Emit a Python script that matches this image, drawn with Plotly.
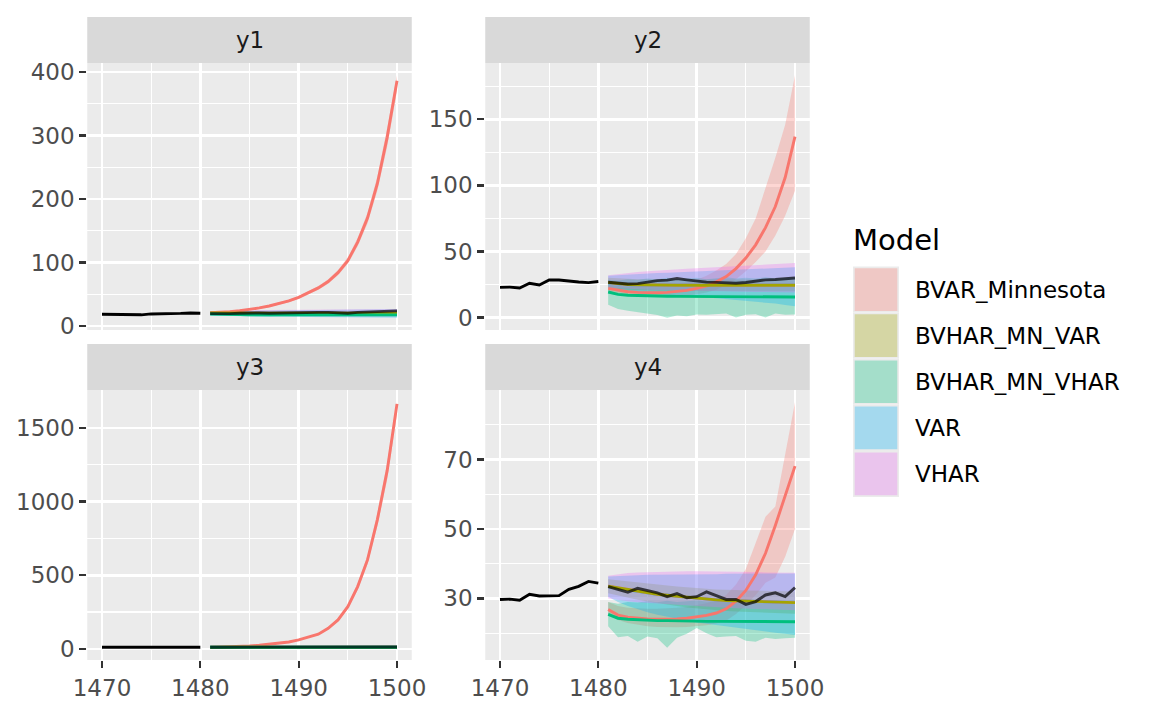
import plotly.graph_objects as go

# ---------------- data ----------------
train_years = [1470, 1471, 1472, 1473, 1474, 1475, 1476, 1477, 1478, 1479, 1480]
fc_years = [1481, 1482, 1483, 1484, 1485, 1486, 1487, 1488, 1489, 1490,
            1491, 1492, 1493, 1494, 1495, 1496, 1497, 1498, 1499, 1500]
x_ticks = [1470, 1480, 1490, 1500]
x_minor = [1475, 1485, 1495]

models = ["BVAR_Minnesota", "BVHAR_MN_VAR", "BVHAR_MN_VHAR", "VAR", "VHAR"]
model_colors = ["#F8766D", "#A3A500", "#00BF7D", "#00B0F6", "#E76BF3"]
panel_titles = ["y1", "y2", "y3", "y4"]

# ---- y1 ----
y1_ticks = [0, 100, 200, 300, 400]
y1_minor = [50, 150, 250, 350]
y1_train = [18.6, 18.5, 18.0, 17.8, 17.6, 19.0, 19.0, 19.3, 19.8, 20.5, 20.0]
y1_test = [19.5, 19.0, 19.5, 20.0, 20.5, 20.5, 20.0, 20.5, 21.0, 20.5, 21.0, 21.5, 21.5, 21.0, 20.0, 21.5, 22.0, 22.5, 23.0, 23.8]
y1_minn_mean = [21.0, 21.5, 22.5, 24.0, 26.0, 28.5, 31.5, 35.0, 39.5, 45.0, 52.0, 60.0, 70.0, 84.0, 103.0, 132.0, 170.0, 224.0, 297.0, 386.0]
y1_minn_lo = [20.0, 20.5, 21.4, 22.8, 24.7, 27.1, 29.9, 33.2, 37.5, 42.7, 49.4, 57.0, 66.5, 79.8, 97.9, 125.4, 161.5, 212.8, 282.2, 370.0]
y1_minn_hi = [22.0, 22.5, 23.6, 25.2, 27.3, 29.9, 33.1, 36.8, 41.5, 47.3, 54.6, 63.0, 73.5, 88.2, 108.2, 138.6, 178.5, 235.2, 311.9, 395.0]
y1_mnvar_mean = [20.6, 20.4, 20.3, 20.2, 20.1, 20.1, 20.0, 20.0, 20.0, 20.0, 20.0, 20.0, 20.0, 20.0, 20.0, 20.0, 20.0, 20.0, 20.0, 20.0]
y1_mnvar_lo = [18.8, 18.4, 18.1, 17.9, 17.8, 17.7, 17.6, 17.5, 17.5, 17.4, 17.4, 17.3, 17.3, 17.3, 17.2, 17.2, 17.2, 17.1, 17.1, 17.1]
y1_mnvar_hi = [22.4, 22.5, 22.5, 22.6, 22.6, 22.7, 22.7, 22.7, 22.8, 22.8, 22.8, 22.9, 22.9, 22.9, 22.9, 23.0, 23.0, 23.0, 23.0, 23.1]
y1_mnvhar_mean = [19.0, 18.4, 18.1, 17.9, 17.8, 17.7, 17.7, 17.6, 17.6, 17.6, 17.5, 17.5, 17.5, 17.5, 17.5, 17.5, 17.5, 17.5, 17.5, 17.5]
y1_mnvhar_lo = [16.8, 16.0, 15.6, 15.7, 15.2, 15.5, 15.0, 15.4, 15.3, 14.9, 15.2, 15.0, 15.3, 14.8, 15.1, 15.0, 14.7, 15.0, 14.9, 15.0]
y1_mnvhar_hi = [21.0, 20.7, 20.6, 20.5, 20.6, 20.4, 20.5, 20.4, 20.5, 20.3, 20.4, 20.3, 20.4, 20.3, 20.3, 20.4, 20.3, 20.3, 20.3, 20.3]
y1_var_mean = [20.4, 20.3, 20.2, 20.1, 20.1, 20.0, 20.0, 20.0, 20.0, 20.0, 20.0, 20.0, 20.0, 20.0, 20.0, 20.0, 20.0, 20.0, 20.0, 20.0]
y1_var_lo = [16.5, 16.0, 15.6, 15.3, 15.0, 14.8, 14.6, 14.4, 14.2, 14.1, 13.9, 13.8, 13.6, 13.5, 13.4, 13.3, 13.2, 13.0, 12.9, 12.8]
y1_var_hi = [23.2, 23.5, 23.7, 23.9, 24.1, 24.3, 24.5, 24.6, 24.8, 24.9, 25.1, 25.2, 25.4, 25.5, 25.6, 25.7, 25.8, 26.0, 26.1, 26.2]
y1_vhar_mean = [20.5, 20.3, 20.2, 20.1, 20.1, 20.0, 20.0, 20.0, 20.0, 20.0, 20.0, 20.0, 20.0, 20.0, 20.0, 20.0, 20.0, 20.0, 20.0, 20.0]
y1_vhar_lo = [17.0, 16.7, 16.5, 16.3, 16.2, 16.1, 16.0, 15.9, 15.8, 15.8, 15.7, 15.7, 15.6, 15.6, 15.6, 15.5, 15.5, 15.5, 15.5, 15.4]
y1_vhar_hi = [23.5, 24.0, 24.3, 24.6, 24.8, 25.0, 25.2, 25.4, 25.5, 25.7, 25.8, 25.9, 26.0, 26.1, 26.2, 26.3, 26.4, 26.5, 26.6, 26.7]

# ---- y2 ----
y2_ticks = [0, 50, 100, 150]
y2_minor = [25, 75, 125, 175]
y2_train = [22.8, 23.0, 22.3, 25.9, 24.6, 28.4, 28.4, 27.4, 26.9, 26.4, 27.2]
y2_test = [26.7, 26.0, 25.3, 25.6, 26.8, 27.9, 28.3, 29.5, 28.5, 27.4, 26.8, 26.6, 26.3, 25.9, 26.5, 27.6, 28.5, 28.8, 29.6, 29.9]
y2_minn_mean = [22.0, 20.5, 19.5, 19.0, 18.7, 18.7, 19.0, 19.5, 20.5, 22.0, 24.0, 27.0, 31.0, 37.0, 45.0, 55.0, 68.0, 84.0, 106.0, 137.0]
y2_minn_lo = [19.5, 18.0, 16.8, 16.2, 15.8, 15.6, 15.7, 16.0, 16.6, 17.6, 19.0, 21.0, 24.5, 29.0, 35.0, 42.0, 50.0, 62.0, 77.0, 96.0]
y2_minn_hi = [24.5, 23.5, 23.0, 23.0, 23.0, 23.3, 23.8, 24.8, 26.3, 28.5, 31.5, 35.5, 40.5, 48.0, 60.0, 75.0, 98.0, 121.0, 146.0, 183.5]
y2_mnvar_mean = [26.5, 25.5, 25.0, 24.8, 24.6, 24.5, 24.5, 24.4, 24.4, 24.4, 24.4, 24.4, 24.4, 24.4, 24.4, 24.4, 24.4, 24.4, 24.4, 24.4]
y2_mnvar_lo = [23.0, 21.5, 21.0, 20.7, 20.5, 20.4, 20.3, 20.2, 20.2, 20.1, 20.1, 20.0, 20.0, 20.0, 19.9, 19.9, 19.9, 19.8, 19.8, 19.8]
y2_mnvar_hi = [30.0, 29.5, 29.2, 29.0, 28.9, 28.8, 28.8, 28.7, 28.7, 28.7, 28.7, 28.7, 28.7, 28.7, 28.7, 28.7, 28.7, 28.7, 28.7, 28.7]
y2_mnvhar_mean = [19.3, 17.5, 16.8, 16.5, 16.3, 16.2, 16.1, 16.0, 16.0, 15.9, 15.9, 15.8, 15.8, 15.7, 15.7, 15.7, 15.6, 15.6, 15.6, 15.5]
y2_mnvhar_lo = [9.7, 6.5, 5.0, 3.8, 3.0, 1.8, -0.3, 1.5, 1.0, 2.2, 2.0, 2.4, 3.0, 0.0, 2.0, 2.4, 0.0, 3.0, 2.0, 2.2]
y2_mnvhar_hi = [28.5, 28.0, 29.0, 28.5, 29.5, 29.0, 30.0, 29.0, 29.5, 30.0, 29.0, 29.5, 30.5, 29.5, 30.0, 29.5, 30.5, 29.5, 30.0, 30.5]
y2_var_mean = [26.3, 25.4, 25.0, 24.8, 24.6, 24.5, 24.5, 24.4, 24.4, 24.4, 24.4, 24.4, 24.4, 24.4, 24.4, 24.4, 24.4, 24.4, 24.4, 24.4]
y2_var_lo = [22.0, 20.5, 19.5, 18.8, 18.2, 17.6, 17.1, 16.6, 16.1, 15.6, 15.1, 14.6, 14.0, 13.4, 12.8, 12.1, 11.3, 10.5, 9.5, 8.5]
y2_var_hi = [31.5, 32.0, 32.5, 33.0, 33.3, 33.6, 33.9, 34.2, 34.5, 34.8, 35.1, 35.4, 35.7, 36.0, 36.3, 36.6, 37.0, 37.3, 37.6, 38.0]
y2_vhar_mean = [26.4, 25.5, 25.0, 24.8, 24.6, 24.5, 24.5, 24.4, 24.4, 24.4, 24.4, 24.4, 24.4, 24.4, 24.4, 24.4, 24.4, 24.4, 24.4, 24.4]
y2_vhar_lo = [22.5, 22.0, 21.6, 21.3, 21.0, 20.8, 20.6, 20.4, 20.2, 20.0, 19.9, 19.8, 19.6, 19.5, 19.4, 19.3, 19.2, 19.1, 19.0, 18.9]
y2_vhar_hi = [32.0, 33.0, 33.8, 34.5, 35.0, 35.6, 36.1, 36.5, 36.9, 37.3, 37.7, 38.0, 38.4, 38.7, 39.0, 39.4, 39.8, 40.2, 40.7, 41.2]

# ---- y3 ----
y3_ticks = [0, 500, 1000, 1500]
y3_minor = [250, 750, 1250]
y3_train = [11.5, 11.6, 11.4, 11.5, 11.7, 11.6, 11.8, 12.0, 12.4, 12.1, 11.9]
y3_test = [11.8, 11.9, 12.0, 11.9, 12.1, 12.2, 12.0, 12.3, 12.4, 12.2, 12.5, 12.6, 12.4, 12.7, 12.8, 12.6, 12.9, 13.0, 13.1, 13.2]
y3_minn_mean = [11.0, 12.0, 13.0, 16.0, 20.0, 25.0, 31.0, 38.0, 47.0, 61.0, 79.0, 100.0, 140.0, 197.0, 287.0, 423.0, 604.0, 876.0, 1210.0, 1663.0]
y3_minn_lo = [10.5, 11.4, 12.4, 15.2, 19.0, 23.8, 29.5, 36.1, 44.7, 58.0, 75.0, 95.0, 133.0, 187.0, 273.0, 402.0, 574.0, 832.0, 1150.0, 1590.0]
y3_minn_hi = [11.5, 12.6, 13.6, 16.8, 21.0, 26.3, 32.6, 39.9, 49.4, 64.1, 83.0, 105.0, 147.0, 207.0, 301.0, 444.0, 634.0, 920.0, 1265.0, 1674.0]
y3_mnvar_mean = [11.9, 11.9, 11.8, 11.8, 11.8, 11.8, 11.8, 11.8, 11.8, 11.8, 11.8, 11.8, 11.8, 11.8, 11.8, 11.8, 11.8, 11.8, 11.8, 11.8]
y3_mnvar_lo = [10.9, 10.8, 10.7, 10.6, 10.6, 10.5, 10.5, 10.5, 10.4, 10.4, 10.4, 10.4, 10.3, 10.3, 10.3, 10.3, 10.3, 10.2, 10.2, 10.2]
y3_mnvar_hi = [12.9, 13.0, 13.0, 13.1, 13.1, 13.1, 13.2, 13.2, 13.2, 13.2, 13.3, 13.3, 13.3, 13.3, 13.3, 13.4, 13.4, 13.4, 13.4, 13.4]
y3_mnvhar_mean = [11.6, 11.4, 11.3, 11.3, 11.2, 11.2, 11.2, 11.2, 11.2, 11.2, 11.2, 11.2, 11.2, 11.2, 11.2, 11.2, 11.2, 11.2, 11.2, 11.2]
y3_mnvhar_lo = [9.6, 9.3, 9.2, 9.0, 9.1, 8.9, 8.8, 9.0, 8.9, 8.7, 8.9, 8.8, 8.7, 8.9, 8.8, 8.6, 8.8, 8.7, 8.7, 8.8]
y3_mnvhar_hi = [13.0, 13.0, 13.1, 13.1, 13.2, 13.2, 13.2, 13.3, 13.3, 13.3, 13.3, 13.4, 13.4, 13.4, 13.4, 13.4, 13.5, 13.5, 13.5, 13.5]
y3_var_mean = [11.8, 11.8, 11.8, 11.8, 11.8, 11.8, 11.8, 11.8, 11.8, 11.8, 11.8, 11.8, 11.8, 11.8, 11.8, 11.8, 11.8, 11.8, 11.8, 11.8]
y3_var_lo = [10.0, 9.8, 9.6, 9.5, 9.4, 9.3, 9.2, 9.1, 9.0, 8.9, 8.9, 8.8, 8.7, 8.7, 8.6, 8.6, 8.5, 8.5, 8.4, 8.3]
y3_var_hi = [13.3, 13.5, 13.6, 13.7, 13.8, 13.9, 14.0, 14.0, 14.1, 14.1, 14.2, 14.2, 14.3, 14.3, 14.4, 14.4, 14.4, 14.5, 14.5, 14.5]
y3_vhar_mean = [11.8, 11.8, 11.8, 11.8, 11.8, 11.8, 11.8, 11.8, 11.8, 11.8, 11.8, 11.8, 11.8, 11.8, 11.8, 11.8, 11.8, 11.8, 11.8, 11.8]
y3_vhar_lo = [10.2, 10.0, 9.9, 9.8, 9.7, 9.6, 9.5, 9.5, 9.4, 9.4, 9.3, 9.3, 9.2, 9.2, 9.2, 9.1, 9.1, 9.1, 9.0, 9.0]
y3_vhar_hi = [13.4, 13.5, 13.6, 13.6, 13.7, 13.7, 13.8, 13.8, 13.8, 13.9, 13.9, 13.9, 13.9, 14.0, 14.0, 14.0, 14.0, 14.0, 14.0, 14.0]

# ---- y4 ----
y4_ticks = [30, 50, 70]
y4_minor = [20, 40, 60, 80]
y4_train = [29.7, 29.8, 29.5, 31.2, 30.7, 30.7, 30.8, 32.6, 33.5, 34.9, 34.4]
y4_test = [33.4, 32.6, 31.8, 32.9, 32.3, 31.6, 30.5, 31.4, 30.2, 30.5, 31.9, 30.9, 29.7, 29.7, 28.3, 29.1, 31.0, 31.6, 30.5, 33.1]
y4_minn_mean = [26.8, 25.2, 24.6, 24.3, 24.1, 24.0, 24.0, 24.1, 24.3, 24.6, 25.1, 25.8, 27.0, 29.2, 32.3, 36.8, 43.0, 51.0, 59.5, 68.1]
y4_minn_lo = [25.5, 23.8, 22.9, 22.4, 22.0, 21.8, 21.7, 21.7, 21.8, 22.0, 22.3, 22.8, 23.6, 25.5, 28.0, 31.0, 34.5, 36.0, 42.0, 50.0]
y4_minn_hi = [29.0, 27.8, 27.3, 27.1, 27.0, 27.0, 27.1, 27.3, 27.6, 28.0, 28.6, 29.5, 31.0, 34.0, 38.5, 46.0, 53.5, 56.5, 71.0, 86.5]
y4_mnvar_mean = [33.5, 33.0, 32.5, 32.0, 31.6, 31.2, 30.9, 30.6, 30.3, 30.0, 29.8, 29.6, 29.4, 29.3, 29.2, 29.1, 29.0, 28.9, 28.9, 28.8]
y4_mnvar_lo = [31.5, 30.8, 30.2, 29.6, 29.1, 28.6, 28.2, 27.8, 27.4, 27.1, 26.8, 26.6, 26.4, 26.2, 26.1, 26.0, 25.9, 25.8, 25.7, 25.6]
y4_mnvar_hi = [35.5, 35.2, 34.8, 34.4, 34.1, 33.8, 33.6, 33.4, 33.2, 32.9, 32.8, 32.6, 32.4, 32.4, 32.3, 32.2, 32.1, 32.0, 32.0, 32.0]
y4_mnvhar_mean = [25.4, 24.3, 24.0, 23.8, 23.7, 23.6, 23.6, 23.5, 23.5, 23.5, 23.4, 23.4, 23.4, 23.4, 23.3, 23.3, 23.3, 23.3, 23.3, 23.3]
y4_mnvhar_lo = [22.0, 18.8, 19.2, 17.5, 19.0, 18.5, 15.8, 18.7, 19.8, 21.5, 20.0, 18.8, 19.0, 19.2, 17.8, 17.5, 18.7, 18.3, 18.5, 18.7]
y4_mnvhar_hi = [29.0, 28.5, 29.0, 28.8, 29.2, 28.9, 29.3, 29.0, 29.2, 29.4, 29.1, 29.3, 29.5, 29.2, 29.4, 29.3, 29.5, 29.2, 29.4, 29.5]
y4_var_mean = [33.4, 32.9, 32.4, 32.0, 31.6, 31.2, 30.9, 30.6, 30.3, 30.0, 29.8, 29.6, 29.4, 29.3, 29.2, 29.1, 29.0, 28.9, 28.9, 28.8]
y4_var_lo = [30.5, 29.0, 27.8, 26.8, 26.0, 25.3, 24.7, 24.1, 23.6, 23.1, 22.7, 22.3, 21.9, 21.5, 21.2, 20.8, 20.5, 20.1, 19.8, 19.5]
y4_var_hi = [36.3, 36.5, 36.6, 36.7, 36.8, 36.8, 36.9, 36.9, 37.0, 37.0, 37.0, 37.0, 37.1, 37.1, 37.1, 37.1, 37.1, 37.2, 37.2, 37.2]
y4_vhar_mean = [33.5, 33.0, 32.5, 32.0, 31.6, 31.2, 30.9, 30.6, 30.3, 30.0, 29.8, 29.6, 29.4, 29.3, 29.2, 29.1, 29.0, 28.9, 28.9, 28.8]
y4_vhar_lo = [30.0, 29.5, 29.2, 28.9, 28.7, 28.5, 28.3, 28.1, 27.9, 27.8, 27.6, 27.5, 27.3, 27.2, 27.1, 27.0, 26.9, 26.8, 26.7, 26.6]
y4_vhar_hi = [36.5, 37.0, 37.3, 37.5, 37.6, 37.7, 37.8, 37.8, 37.8, 37.8, 37.8, 37.7, 37.7, 37.7, 37.6, 37.6, 37.5, 37.5, 37.4, 37.4]

# ---------------- assembly ----------------
panels = [
    dict(title="y1", train=y1_train, test=y1_test, ticks=y1_ticks, minor=y1_minor,
         series=[(y1_minn_mean, y1_minn_lo, y1_minn_hi), (y1_mnvar_mean, y1_mnvar_lo, y1_mnvar_hi),
                 (y1_mnvhar_mean, y1_mnvhar_lo, y1_mnvhar_hi), (y1_var_mean, y1_var_lo, y1_var_hi),
                 (y1_vhar_mean, y1_vhar_lo, y1_vhar_hi)]),
    dict(title="y2", train=y2_train, test=y2_test, ticks=y2_ticks, minor=y2_minor,
         series=[(y2_minn_mean, y2_minn_lo, y2_minn_hi), (y2_mnvar_mean, y2_mnvar_lo, y2_mnvar_hi),
                 (y2_mnvhar_mean, y2_mnvhar_lo, y2_mnvhar_hi), (y2_var_mean, y2_var_lo, y2_var_hi),
                 (y2_vhar_mean, y2_vhar_lo, y2_vhar_hi)]),
    dict(title="y3", train=y3_train, test=y3_test, ticks=y3_ticks, minor=y3_minor,
         series=[(y3_minn_mean, y3_minn_lo, y3_minn_hi), (y3_mnvar_mean, y3_mnvar_lo, y3_mnvar_hi),
                 (y3_mnvhar_mean, y3_mnvhar_lo, y3_mnvhar_hi), (y3_var_mean, y3_var_lo, y3_var_hi),
                 (y3_vhar_mean, y3_vhar_lo, y3_vhar_hi)]),
    dict(title="y4", train=y4_train, test=y4_test, ticks=y4_ticks, minor=y4_minor,
         series=[(y4_minn_mean, y4_minn_lo, y4_minn_hi), (y4_mnvar_mean, y4_mnvar_lo, y4_mnvar_hi),
                 (y4_mnvhar_mean, y4_mnvhar_lo, y4_mnvhar_hi), (y4_var_mean, y4_var_lo, y4_var_hi),
                 (y4_vhar_mean, y4_vhar_lo, y4_vhar_hi)]),
]

W, H = 1152, 711
FONT = "DejaVu Sans"
BG = "#EBEBEB"
ALPHA = 0.3

# panel pixel boxes
col_x = [(87.25, 411.75), (485.25, 809.75)]
row_y = [(63.0, 330.0), (390.0, 660.0)]
strip_h = 46.0


def px_x(v):
    return v / W


def px_y(v):
    return 1 - v / H


def rgba(hexcol, a):
    h = hexcol.lstrip("#")
    r, g, b = int(h[0:2], 16), int(h[2:4], 16), int(h[4:6], 16)
    return f"rgba({r},{g},{b},{a})"


fig = go.Figure()
shapes = []
annotations = []
x_range = [1470 - 1.5, 1500 + 1.5]

for i, p in enumerate(panels):
    s = "" if i == 0 else str(i + 1)
    xa, ya = "x" + s, "y" + s
    row, col = divmod(i, 2)
    # ribbons
    for (mean, lo, hi), col_hex in zip(p["series"], model_colors):
        fig.add_trace(go.Scatter(x=fc_years, y=lo, xaxis=xa, yaxis=ya, mode="lines",
                                 line=dict(width=0, color=rgba(col_hex, 0)), showlegend=False,
                                 hoverinfo="skip"))
        fig.add_trace(go.Scatter(x=fc_years, y=hi, xaxis=xa, yaxis=ya, mode="lines",
                                 line=dict(width=0, color=rgba(col_hex, 0)), fill="tonexty",
                                 fillcolor=rgba(col_hex, ALPHA), showlegend=False, hoverinfo="skip"))
    # lines (VAR / VHAR first so that they sit beneath)
    for k in [3, 4, 0, 1, 2]:
        mean = p["series"][k][0]
        fig.add_trace(go.Scatter(x=fc_years, y=mean, xaxis=xa, yaxis=ya, mode="lines",
                                 line=dict(width=2.9, color=model_colors[k]), showlegend=False))
    fig.add_trace(go.Scatter(x=train_years, y=p["train"], xaxis=xa, yaxis=ya, mode="lines",
                             line=dict(width=2.9, color="black"), showlegend=False))
    fig.add_trace(go.Scatter(x=fc_years, y=p["test"], xaxis=xa, yaxis=ya, mode="lines",
                             line=dict(width=2.9, color="rgba(0,0,0,0.7)"), showlegend=False))

    # y range with 5% expansion (ggplot style)
    allv = list(p["train"]) + list(p["test"])
    for trip in p["series"]:
        for arr in trip:
            allv += list(arr)
    lo_v, hi_v = min(allv), max(allv)
    pad = (hi_v - lo_v) * 0.05
    y_range = [lo_v - pad, hi_v + pad]

    x0, x1 = col_x[col]
    t, b = row_y[row]
    bottom_row = row == 1
    fig.layout["xaxis" + s] = dict(
        domain=[px_x(x0), px_x(x1)], range=x_range, anchor=ya, automargin=False,
        tickmode="array", tickvals=x_ticks, ticktext=[str(v) for v in x_ticks],
        showticklabels=bottom_row, ticks="outside" if bottom_row else "",
        ticklen=7, tickwidth=2.2, tickcolor="#333333",
        tickfont=dict(family=FONT, size=23, color="#4D4D4D"),
        showgrid=True, gridcolor="white", gridwidth=2.6, zeroline=False, showline=False,
        minor=dict(tickmode="array", tickvals=x_minor, showgrid=True, gridcolor="white",
                   gridwidth=1.3, ticks=""),
        fixedrange=True,
    )
    fig.layout["yaxis" + s] = dict(
        domain=[px_y(b), px_y(t)], range=y_range, anchor=xa, automargin=False,
        tickmode="array", tickvals=p["ticks"], ticktext=[str(v) for v in p["ticks"]],
        ticks="outside", ticklen=7, tickwidth=2.2, tickcolor="#333333",
        tickfont=dict(family=FONT, size=23, color="#4D4D4D"),
        showgrid=True, gridcolor="white", gridwidth=2.6, zeroline=False, showline=False,
        minor=dict(tickmode="array", tickvals=p["minor"], showgrid=True, gridcolor="white",
                   gridwidth=1.3, ticks=""),
        fixedrange=True,
    )
    # strip
    shapes.append(dict(type="rect", xref="paper", yref="paper",
                       x0=px_x(x0), x1=px_x(x1), y0=px_y(t), y1=px_y(t - strip_h),
                       fillcolor="#D9D9D9", line=dict(width=0), layer="below"))
    annotations.append(dict(text=p["title"], xref="paper", yref="paper",
                            x=px_x((x0 + x1) / 2), y=px_y(t - strip_h / 2),
                            xanchor="center", yanchor="middle", showarrow=False,
                            font=dict(family=FONT, size=23, color="#1A1A1A")))

# legend (drawn manually as ggplot-like keys)
leg_x0, leg_x1 = 853.0, 899.0
key_top, key_h = 266.5, 46.1
annotations.append(dict(text="Model", xref="paper", yref="paper", x=px_x(851), y=px_y(240),
                        xanchor="left", yanchor="middle", showarrow=False,
                        font=dict(family=FONT, size=29, color="black")))
for j, (name, c) in enumerate(zip(models, model_colors)):
    ty = key_top + j * key_h
    shapes.append(dict(type="rect", xref="paper", yref="paper",
                       x0=px_x(leg_x0), x1=px_x(leg_x1), y0=px_y(ty + key_h), y1=px_y(ty),
                       fillcolor=BG, line=dict(width=0)))
    shapes.append(dict(type="rect", xref="paper", yref="paper",
                       x0=px_x(leg_x0 + 1.7), x1=px_x(leg_x1 - 1.7),
                       y0=px_y(ty + key_h - 1.7), y1=px_y(ty + 1.7),
                       fillcolor=rgba(c, ALPHA), line=dict(width=0)))
    annotations.append(dict(text=name, xref="paper", yref="paper", x=px_x(913),
                            y=px_y(ty + key_h / 2), xanchor="left", yanchor="middle",
                            showarrow=False, font=dict(family=FONT, size=23, color="black")))

fig.update_layout(
    width=W, height=H, margin=dict(l=0, r=0, t=0, b=0, autoexpand=False),
    paper_bgcolor="white", plot_bgcolor=BG, showlegend=False,
    shapes=shapes, annotations=annotations,
    font=dict(family=FONT),
)

fig.write_html(
    "out.html",
    config={"displayModeBar": False, "staticPlot": True},
    post_script=(
        "document.documentElement.style.margin='0';"
        "document.documentElement.style.padding='0';"
        "document.documentElement.style.overflow='hidden';"
        "document.body.style.margin='0';"
        "document.body.style.padding='0';"
        "document.body.style.overflow='hidden';"
    ),
)
